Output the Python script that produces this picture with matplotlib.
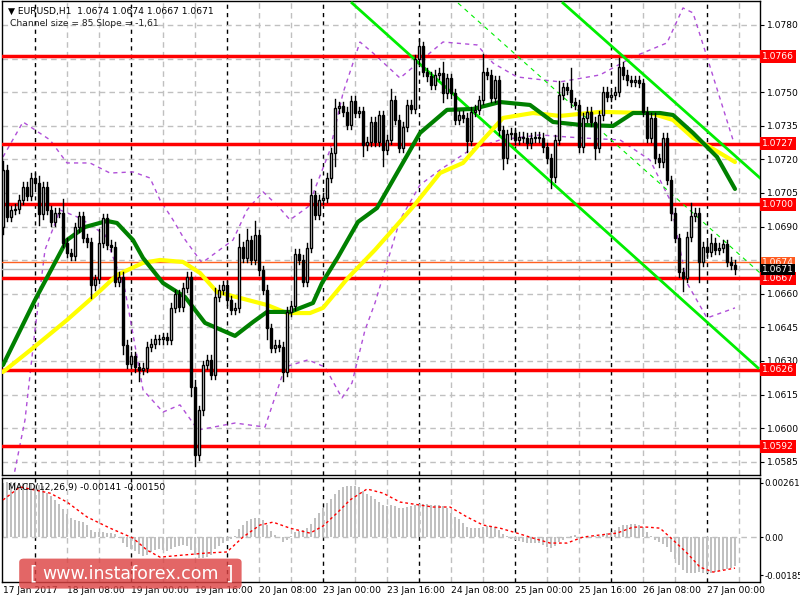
import matplotlib
matplotlib.use("Agg")
import matplotlib.pyplot as plt
import matplotlib.transforms as mtransforms
from matplotlib.patches import Rectangle, FancyBboxPatch
import numpy as np

# ---------------- data ----------------
first_open = 1.06898
closes = [1.07153,1.06943,1.06974,1.06979,1.07019,1.07077,1.07037,1.07117,1.07095,1.06956,
          1.07077,1.06974,1.06921,1.06961,1.06961,1.06827,1.06782,1.06769,1.06898,1.06947,
          1.06849,1.06831,1.06639,1.06666,1.06827,1.06938,1.06818,1.06809,1.06653,1.06675,
          1.06372,1.06287,1.06322,1.06273,1.06260,1.06269,1.06363,1.06376,1.06398,1.06398,
          1.06407,1.06394,1.06537,1.06599,1.06541,1.06626,1.06675,1.06184,1.05880,1.06081,
          1.06282,1.06305,1.06238,1.06586,1.06617,1.06639,1.06572,1.06528,1.06537,1.06809,
          1.06760,1.06840,1.06751,1.06863,1.06706,1.06617,1.06447,1.06358,1.06372,1.06363,
          1.06251,1.06519,1.06546,1.06778,1.06751,1.06653,1.06805,1.07041,1.06952,1.07019,
          1.07028,1.07117,1.07229,1.07429,1.07438,1.07412,1.07354,1.07461,1.07407,1.07416,
          1.07264,1.07278,1.07367,1.07278,1.07398,1.07242,1.07287,1.07465,1.07376,1.07251,
          1.07345,1.07443,1.07425,1.07648,1.07706,1.07590,1.07572,1.07532,1.07577,1.07586,
          1.07496,1.07563,1.07496,1.07376,1.07398,1.07385,1.07282,1.07412,1.07421,1.07465,
          1.07590,1.07577,1.07474,1.07554,1.07331,1.07206,1.07313,1.07318,1.07287,1.07300,
          1.07296,1.07273,1.07296,1.07300,1.07296,1.07255,1.07206,1.07121,1.07287,1.07488,
          1.07523,1.07510,1.07456,1.07443,1.07255,1.07385,1.07412,1.07367,1.07251,1.07398,
          1.07501,1.07479,1.07488,1.07501,1.07613,1.07577,1.07554,1.07546,1.07554,1.07541,
          1.07412,1.07296,1.07385,1.07206,1.07188,1.07296,1.07108,1.06961,1.06849,1.06697,
          1.06671,1.06854,1.06947,1.06961,1.06742,1.06809,1.06787,1.06827,1.06796,1.06805,
          1.06822,1.06742,1.06729,1.06710]
# notable wicks (bar: (upper pips, lower pips)); others use default
long_wicks = {0: (4, 3), 9: (3, 5), 15: (6, 2), 22: (2, 6), 24: (6, 2), 30: (2, 4), 34: (2, 5),
              47: (2, 4), 48: (3, 5), 53: (4, 2), 59: (6, 2), 61: (5, 2), 63: (6, 2), 66: (2, 5),
              70: (2, 4), 77: (7, 2), 83: (4, 6), 90: (2, 5), 95: (2, 7), 97: (5, 2), 104: (3, 2),
              110: (5, 4), 116: (2, 5), 120: (8, 2), 125: (2, 5), 137: (2, 5), 139: (6, 2),
              142: (10, 2), 148: (2, 5), 154: (4, 2), 167: (2, 3), 170: (2, 6), 172: (6, 2),
              174: (2, 9), 177: (4, 2)}
default_wick = (2, 2)

ma_fast_bar = [0, 8, 16, 20.5, 26, 28.5, 32.5, 35, 40, 45.5, 50.5, 58, 62.5, 66, 71.75, 77.5, 79.75,
               83.75, 88.75, 93.5, 98.5, 104.25, 111, 117.5, 124.25, 131.75, 137.5, 144.25, 152.5,
               157.5, 164.25, 167.5, 172.5, 178.5, 183]
ma_fast_val = [1.06282, 1.06572, 1.06840, 1.06898, 1.06925, 1.06916, 1.06840, 1.06760, 1.06648,
               1.06586, 1.06470, 1.06412, 1.06474, 1.06519, 1.06519, 1.06559, 1.06648, 1.06764,
               1.06921, 1.06983, 1.07139, 1.07318, 1.07421, 1.07425, 1.07456, 1.07443, 1.07367,
               1.07354, 1.07349, 1.07407, 1.07407, 1.07398, 1.07318, 1.07211, 1.07068]
ma_slow_bar = [0, 7.5, 16, 24.25, 28.5, 35, 39.25, 45, 49.25, 53.5, 66, 71, 76.75, 80, 86.25, 93,
               102.5, 109.25, 115, 120, 125, 132.5, 139.25, 149.25, 161.75, 167.5, 172.5, 176.75, 183]
ma_slow_val = [1.06251, 1.06358, 1.06483, 1.06613, 1.06684, 1.06738, 1.06751, 1.06742, 1.06693,
               1.06608, 1.06550, 1.06514, 1.06514, 1.06537, 1.06671, 1.06796, 1.06988, 1.07139,
               1.07184, 1.07287, 1.07385, 1.07407, 1.07394, 1.07412, 1.07407, 1.07376, 1.07296,
               1.07255, 1.07188]
band_up_bar = [0, 5, 11.75, 16, 21.75, 26.75, 32.5, 36.75, 39.25, 42.5, 45, 49.75, 57.5, 61, 65, 68.5,
               71.75, 76.25, 81.75, 85, 89.25, 92.5, 99.25, 110, 118.5, 122.5, 128.5, 139.25, 149.25,
               157.5, 166, 170, 172.5, 176, 182.5]
band_up_val = [1.07211, 1.07367, 1.07287, 1.07184, 1.07184, 1.07139, 1.07144, 1.07117, 1.07019,
               1.06930, 1.06854, 1.06738, 1.06840, 1.06974, 1.07055, 1.06996, 1.06930, 1.06988,
               1.07242, 1.07496, 1.07724, 1.07675, 1.07563, 1.07724, 1.07711, 1.07630, 1.07568,
               1.07546, 1.07577, 1.07657, 1.07720, 1.07876, 1.07854, 1.07657, 1.07287]
band_lo_bar = [2.5, 5.5, 8, 10.5, 14.25, 19.25, 25.5, 30.5, 35, 40, 44.25, 48.75, 58, 65.5, 70.5, 76.25,
               80.5, 84.75, 87.25, 90.5, 93, 99.25, 104.25, 109.25, 116.75, 124.25, 134.25, 144.25,
               154.25, 161.75, 166.75, 171, 176, 183]
band_lo_val = [1.05769, 1.06037, 1.06438, 1.06796, 1.06974, 1.06938, 1.06863, 1.06617, 1.06171,
               1.06072, 1.06104, 1.05992, 1.06023, 1.06005, 1.06273, 1.06305, 1.06273, 1.06135,
               1.06202, 1.06438, 1.06559, 1.06930, 1.07086, 1.07153, 1.07242, 1.07287, 1.07309,
               1.07296, 1.07287, 1.07197, 1.07019, 1.06648, 1.06492, 1.06537]

channel_lower = ([87.25, 188.75], [1.07898, 1.06269])
channel_upper = ([140.0, 189.25], [1.07898, 1.07117])
channel_mid = ([113.75, 189.25], [1.07898, 1.06693])

levels = [1.0766, 1.0727, 1.0700, 1.0667, 1.0626, 1.0592]
ask_price = 1.0674
bid_price = 1.0671

macd_hist = [262,264,265,264,262,260,258,255,252,250,248,212,198,179,159,135,111,92,82,77,
             72,58,34,24,24,24,19,19,14,-5,-29,-48,-58,-68,-82,-92,-87,-72,-63,-58,
             -63,-68,-58,-48,-43,-39,-43,-63,-87,-101,-101,-97,-87,-58,-43,-29,-19,-10,5,39,
             58,77,87,92,92,82,58,29,10,-5,-24,-14,5,24,29,34,43,63,92,116,
             140,164,184,208,227,242,246,246,246,242,222,208,198,184,169,155,150,155,150,140,
             140,145,150,155,159,159,159,155,155,155,150,140,116,97,87,68,48,43,43,43,
             48,53,53,48,34,14,3,-10,-14,-19,-24,-29,-29,-29,-29,-39,-48,-53,-43,-24,
             -14,-5,3,10,0,-5,0,-3,3,5,10,19,24,34,48,58,58,63,63,58,
             48,24,5,-14,-24,-34,-48,-72,-106,-135,-159,-174,-174,-174,-169,-174,-174,-174,-169,-164,
             -159,-155,-148,-141]
signal_bar = [0, 4.25, 11.75, 16, 21, 26.75, 32.5, 36, 39.25, 45, 51, 56, 60, 64.25, 67.5, 71.75,
              76.75, 80, 83.5, 86.75, 91, 95, 99.25, 107.5, 111.75, 116, 120, 124.25, 128.5, 132.5,
              136.75, 141, 145, 149.25, 153.5, 157.5, 161, 164.25, 167.5, 171, 174.25, 177.5, 183]
signal_val = [179, 242, 212, 169, 97, 43, -5, -63, -97, -87, -77, -72, 0, 58, 72, 43, 19, 53, 116,
              179, 232, 212, 169, 145, 145, 97, 58, 43, 19, -5, -29, -29, 0, 10, 19, 48, 48, 43,
              -14, -77, -145, -169, -150]

xtick_bars = [0, 16, 32, 48, 64, 80, 96, 112, 128, 144, 160, 176]
xtick_labels = ["17 Jan 2017", "18 Jan 08:00", "19 Jan 00:00", "19 Jan 16:00", "20 Jan 08:00",
                "23 Jan 00:00", "23 Jan 16:00", "24 Jan 08:00", "25 Jan 00:00", "25 Jan 16:00",
                "26 Jan 08:00", "27 Jan 00:00"]
day_bars = [8, 32, 56, 80, 104, 128, 152, 176]
price_ticks = [1.0780, 1.0750, 1.0735, 1.0720, 1.0705, 1.0690, 1.0660, 1.0645, 1.0630,
               1.0615, 1.0600, 1.0585]
grid_prices = [1.0780, 1.0765, 1.0750, 1.0735, 1.0720, 1.0705, 1.0690, 1.0675, 1.0660, 1.0645,
               1.0630, 1.0615, 1.0600, 1.0585]

# ---------------- figure ----------------
plt.rcParams['font.family'] = ['DejaVu Sans']
FS = 6.6
fig = plt.figure(figsize=(8, 6), dpi=100)
fig.patch.set_facecolor('white')
ax = fig.add_axes([0.0025, 0.20833, 0.9475, 0.79])
am = fig.add_axes([0.0025, 0.03, 0.9475, 0.1733])

xlim = (-0.25, 189.25)
for a in (ax, am):
    a.set_xlim(*xlim)
    a.set_facecolor('white')
    for s in a.spines.values():
        s.set_color('black'); s.set_linewidth(1)
    for b in range(0, 190, 8):
        if b in day_bars:
            a.axvline(b, color='black', ls=(0, (3, 3)), lw=1, zorder=1)
        elif b > 0:
            a.axvline(b, color='#c0c0c0', ls=(0, (4, 3)), lw=1, zorder=1)

ax.set_ylim(1.05791, 1.07907)
for p in grid_prices:
    ax.axhline(p, color='#c0c0c0', ls=(0, (4, 3)), lw=1, zorder=1)

# bands
ax.plot(band_up_bar, band_up_val, color='#b04fd8', ls=(0, (3, 3)), lw=1, zorder=2)
ax.plot(band_lo_bar, band_lo_val, color='#b04fd8', ls=(0, (3, 3)), lw=1, zorder=2)

# levels
for lv in levels:
    ax.axhline(lv, color='#ff0000', lw=2.5, zorder=3)
ax.axhline(ask_price, color='#ff6020', lw=1, zorder=3)
ax.axhline(bid_price, color='#b8b8b8', lw=1, zorder=3)

# channel
ax.plot(*channel_lower, color='#00ee00', lw=2, zorder=4)
ax.plot(*channel_upper, color='#00ee00', lw=2, zorder=4)
ax.plot(*channel_mid, color='#00ee00', lw=0.8, ls=(0, (4, 4)), zorder=4)

# moving averages
ax.plot(ma_slow_bar, ma_slow_val, color='#ffff00', lw=3, zorder=5, solid_capstyle='round')
ax.plot(ma_fast_bar, ma_fast_val, color='#008000', lw=3, zorder=5, solid_capstyle='round')

# candles
opens = [first_open] + closes[:-1]
bw = 0.62
for i, (o, c) in enumerate(zip(opens, closes)):
    up, dn = long_wicks.get(i, default_wick)
    hi = max(o, c) + up * 1e-4
    lo = min(o, c) - dn * 1e-4
    ax.plot([i, i], [lo, hi], color='black', lw=1, zorder=6)
    h = abs(c - o)
    if h < 0.00004:
        ax.plot([i - bw / 2, i + bw / 2], [c, c], color='black', lw=1, zorder=7)
    else:
        ax.add_patch(Rectangle((i - bw / 2, min(o, c)), bw, h,
                               facecolor='white' if c > o else 'black',
                               edgecolor='black', lw=1, zorder=7))

ax.yaxis.tick_right()
ax.set_yticks(price_ticks)
ax.set_yticklabels([f"{p:.4f}" for p in price_ticks], fontsize=FS)
ax.tick_params(axis='y', length=3, pad=2)
ax.set_xticks([])

trans = mtransforms.blended_transform_factory(ax.transAxes, ax.transData)
for lv in levels:
    ax.text(1.003, lv, f"{lv:.4f}", transform=trans, ha='left', va='center', fontsize=FS,
            color='white', zorder=10, clip_on=False,
            bbox=dict(boxstyle='square,pad=0.22', fc='#ff0000', ec='none'))
ax.text(1.003, ask_price, f"{ask_price:.4f}", transform=trans, ha='left', va='center', fontsize=FS,
        color='white', zorder=10, clip_on=False,
        bbox=dict(boxstyle='square,pad=0.1', fc='#ff5a1f', ec='none'))
ax.text(1.003, bid_price, f"{bid_price:.4f}", transform=trans, ha='left', va='center', fontsize=FS,
        color='white', zorder=11, clip_on=False,
        bbox=dict(boxstyle='square,pad=0.1', fc='black', ec='none'))

ax.text(0.008, 0.988, "▼ EURUSD,H1  1.0674 1.0674 1.0667 1.0671", transform=ax.transAxes,
        ha='left', va='top', fontsize=FS, zorder=12)
ax.text(0.01, 0.962, "Channel size = 85 Slope = -1,61", transform=ax.transAxes,
        ha='left', va='top', fontsize=FS, color='#222222', zorder=12)

# MACD
am.set_ylim(-0.00217, 0.00285)
am.axhline(0, color='#c0c0c0', ls=(0, (4, 3)), lw=1, zorder=1)
hist = np.array(macd_hist) * 1e-5
am.bar(np.arange(len(hist)), hist, width=0.6, color='#c0c0c0', zorder=2)
am.plot(signal_bar, np.array(signal_val) * 1e-5, color='#ff0000', ls=(0, (2, 2)), lw=1, zorder=3)
am.yaxis.tick_right()
am.set_yticks([0.00261, 0.0, -0.00185])
am.set_yticklabels(["0.00261", "0.00", "-0.00185"], fontsize=6.2)
am.tick_params(axis='y', length=2, pad=1)
am.set_xticks(xtick_bars)
am.set_xticklabels(xtick_labels, fontsize=FS, ha='left')
am.tick_params(axis='x', length=0, pad=3)
am.text(0.008, 0.95, "MACD(12,26,9) -0.00141 -0.00150", transform=am.transAxes,
        ha='left', va='top', fontsize=FS, zorder=12)

# watermark
fig.patches.append(FancyBboxPatch((0.024, 0.019), 0.278, 0.05, boxstyle='round,pad=0.0,rounding_size=0.006',
                                  transform=fig.transFigure, fc='#dd4444', ec='none', alpha=0.82, zorder=20))
fig.text(0.042, 0.044, "[", ha='center', va='center', fontsize=14, color='white', zorder=21)
fig.text(0.163, 0.043, "www.instaforex.com", ha='center', va='center', fontsize=12.5,
         color='white', zorder=21)
fig.text(0.286, 0.044, "]", ha='center', va='center', fontsize=14, color='white', zorder=21)

fig.savefig("out.png", dpi=100)
